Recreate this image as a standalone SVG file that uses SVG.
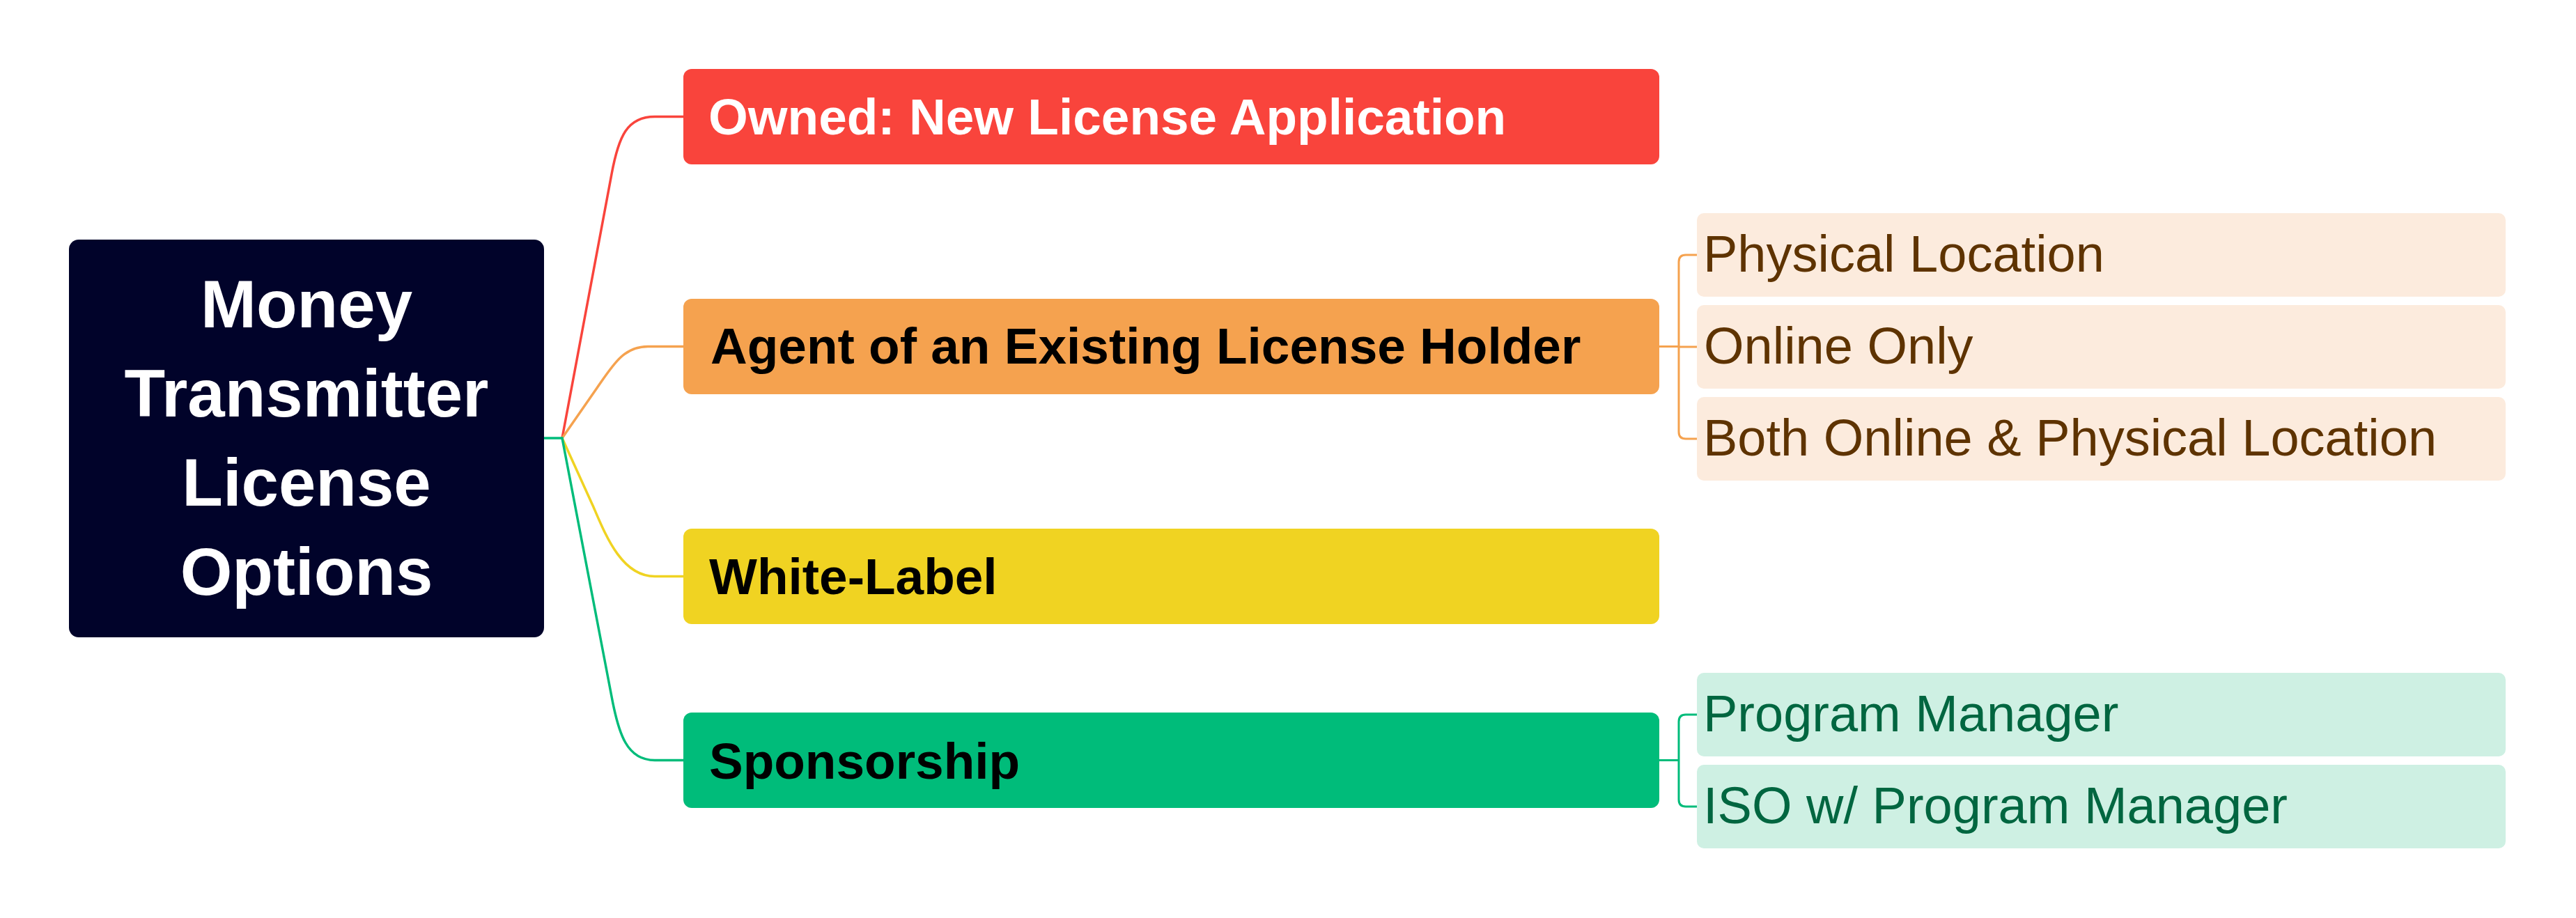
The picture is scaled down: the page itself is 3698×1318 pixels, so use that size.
<svg xmlns="http://www.w3.org/2000/svg" width="3698" height="1318" viewBox="0 0 3698 1318">
<style>
.conn{fill:none;stroke-width:3.5;stroke-linejoin:round;stroke-linecap:round}
.br{fill:none;stroke-width:3}
.l1{font-family:"Liberation Sans",Arial,sans-serif;font-weight:bold;font-size:73px}
.l2{font-family:"Liberation Sans",Arial,sans-serif;font-size:74px}
.root{font-family:"Liberation Sans",Arial,sans-serif;font-weight:bold;font-size:96px;fill:#ffffff;text-anchor:middle}
</style>
<rect width="3698" height="1318" fill="#ffffff"/>
<g id="connectors">
  <path class="conn" stroke="#F9443C" d="M807,629 L878,250 C888,196 900,167.5 940,167.5 L981,167.5"/>
  <path class="conn" stroke="#F5A24F" d="M807,629 L857,557 C880,524 895,497.5 930,497.5 L981,497.5"/>
  <path class="conn" stroke="#F0D322" d="M807,629 L852,728 C870,770 893,827.5 940,827.5 L981,827.5"/>
  <path class="conn" stroke="#00BC7A" d="M807,629 L878,1000 C888,1054 900,1091.5 940,1091.5 L981,1091.5"/>
  <path class="conn" stroke="#00BC7A" d="M781,629 L807,629"/>
  <path class="br" stroke="#F5A24F" d="M2382,497.5 L2410,497.5 M2436,366 L2420,366 Q2410,366 2410,376 L2410,620 Q2410,630 2420,630 L2436,630 M2410,498 L2436,498"/>
  <path class="br" stroke="#00BC7A" d="M2382,1091.5 L2410,1091.5 M2436,1026 L2420,1026 Q2410,1026 2410,1036 L2410,1148 Q2410,1158 2420,1158 L2436,1158"/>
</g>
<g id="root">
  <rect x="99" y="344" width="682" height="571" rx="14" fill="#01032A"/>
  <text class="root" x="440" y="470">Money</text>
  <text class="root" x="440" y="598">Transmitter</text>
  <text class="root" x="440" y="726">License</text>
  <text class="root" x="440" y="854">Options</text>
</g>
<g id="owned">
  <rect x="981" y="99" width="1401" height="137" rx="12" fill="#F9443C"/>
  <text class="l1" x="1017" y="193" fill="#ffffff">Owned: New License Application</text>
</g>
<g id="agent">
  <rect x="981" y="429" width="1401" height="137" rx="12" fill="#F5A24F"/>
  <text class="l1" x="1020" y="522" fill="#000000">Agent of an Existing License Holder</text>
</g>
<g id="whitelabel">
  <rect x="981" y="759" width="1401" height="137" rx="12" fill="#F0D322"/>
  <text class="l1" x="1018" y="853" fill="#000000">White-Label</text>
</g>
<g id="sponsorship">
  <rect x="981" y="1023" width="1401" height="137" rx="12" fill="#00BC7A"/>
  <text class="l1" x="1018" y="1118" fill="#000000">Sponsorship</text>
</g>
<g id="physical">
  <rect x="2436" y="306" width="1161" height="120" rx="10" fill="#FCEBDD"/>
  <text class="l2" x="2445" y="390" fill="#5E3300">Physical Location</text>
</g>
<g id="online">
  <rect x="2436" y="438" width="1161" height="120" rx="10" fill="#FCEBDD"/>
  <text class="l2" x="2446" y="522" fill="#5E3300">Online Only</text>
</g>
<g id="both">
  <rect x="2436" y="570" width="1161" height="120" rx="10" fill="#FCEBDD"/>
  <text class="l2" x="2445" y="654" fill="#5E3300">Both Online &amp; Physical Location</text>
</g>
<g id="programmanager">
  <rect x="2436" y="966" width="1161" height="120" rx="10" fill="#CEF0E3"/>
  <text class="l2" x="2445" y="1050" fill="#006640">Program Manager</text>
</g>
<g id="iso">
  <rect x="2436" y="1098" width="1161" height="120" rx="10" fill="#CEF0E3"/>
  <text class="l2" x="2445" y="1182" fill="#006640">ISO w/ Program Manager</text>
</g>
</svg>
